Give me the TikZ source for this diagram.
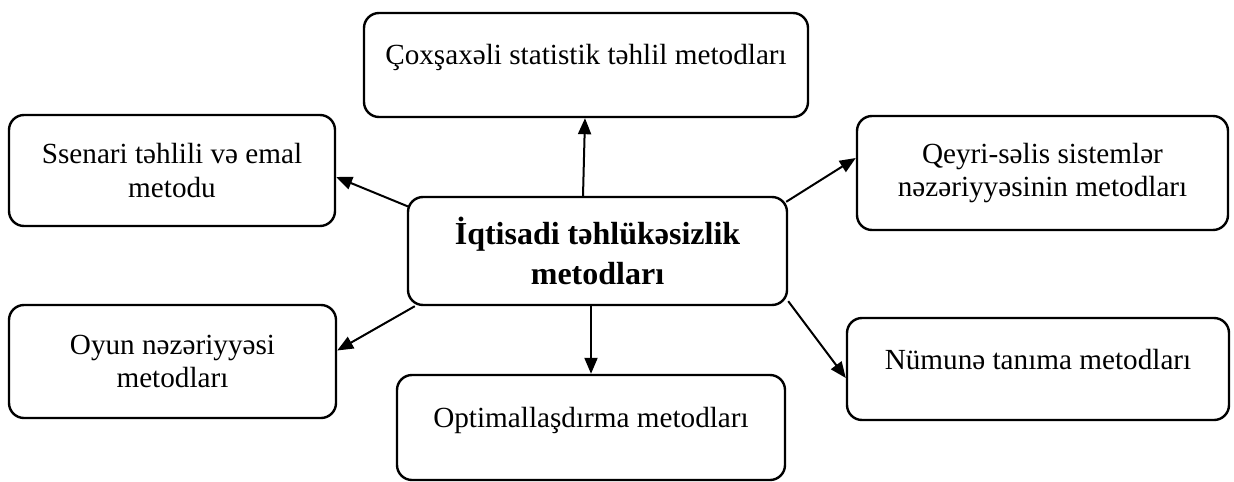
\documentclass[tikz,border=0pt]{standalone}
\usepackage{fontspec}
\setmainfont{Liberation Serif}
\usepackage{tikz}
\usetikzlibrary{arrows.meta}

\begin{document}
\begin{tikzpicture}[x=0.5pt, y=-0.5pt,
  methodbox/.style={draw, rectangle, line width=1.2pt, rounded corners=7.5pt, inner sep=0pt, align=center, font=\fontsize{14.6}{16.8}\selectfont},
  oneline/.style={text height=8pt, text depth=8pt},
  link/.style={->, line width=1pt, >={Triangle[length=8pt, width=6.5pt]}}]
\useasboundingbox (0,0) rectangle (1234,481);
\node[methodbox, minimum width=189.5pt, minimum height=54pt, font=\fontsize{16}{20}\selectfont\bfseries] (core) at (597.5,251) {İqtisadi təhlükəsizlik\\metodları};
\node[methodbox, minimum width=222pt, minimum height=52pt, oneline] (stat) at (586,65) {Çoxşaxəli statistik təhlil metodları};
\node[methodbox, minimum width=163pt, minimum height=55.5pt] (scen) at (172,170.5) {Ssenari təhlili və emal\\metodu};
\node[methodbox, minimum width=185.5pt, minimum height=57pt] (fuzzy) at (1042.5,173) {Qeyri-səlis sistemlər\\nəzəriyyəsinin metodları};
\node[methodbox, minimum width=163.5pt, minimum height=56.5pt] (game) at (172.5,361.5) {Oyun nəzəriyyəsi\\metodları};
\node[methodbox, minimum width=194pt, minimum height=52.5pt, oneline] (optim) at (591,427.5) {Optimallaşdırma metodları};
\node[methodbox, minimum width=191pt, minimum height=51pt, oneline] (pattern) at (1038,369) {Nümunə tanıma metodları};

\draw[link] ([shift={(-14.5,0)}]core.north) -- ([shift={(-1,0)}]stat.south);
\draw[link] ([shift={(2,11)}]core.north west) -- ([shift={(0,6.5)}]scen.east);
\draw[link] ([shift={(-2,6)}]core.north east) -- ([shift={(0,-15)}]fuzzy.west);
\draw[link] ([shift={(8,0)}]core.south west) -- ([shift={(0,-11)}]game.east);
\draw[link] (core.south -| optim.north) -- (optim.north);
\draw[link] ([shift={(0,-5)}]core.south east) -- ([shift={(0,9)}]pattern.west);
\end{tikzpicture}
\end{document}
